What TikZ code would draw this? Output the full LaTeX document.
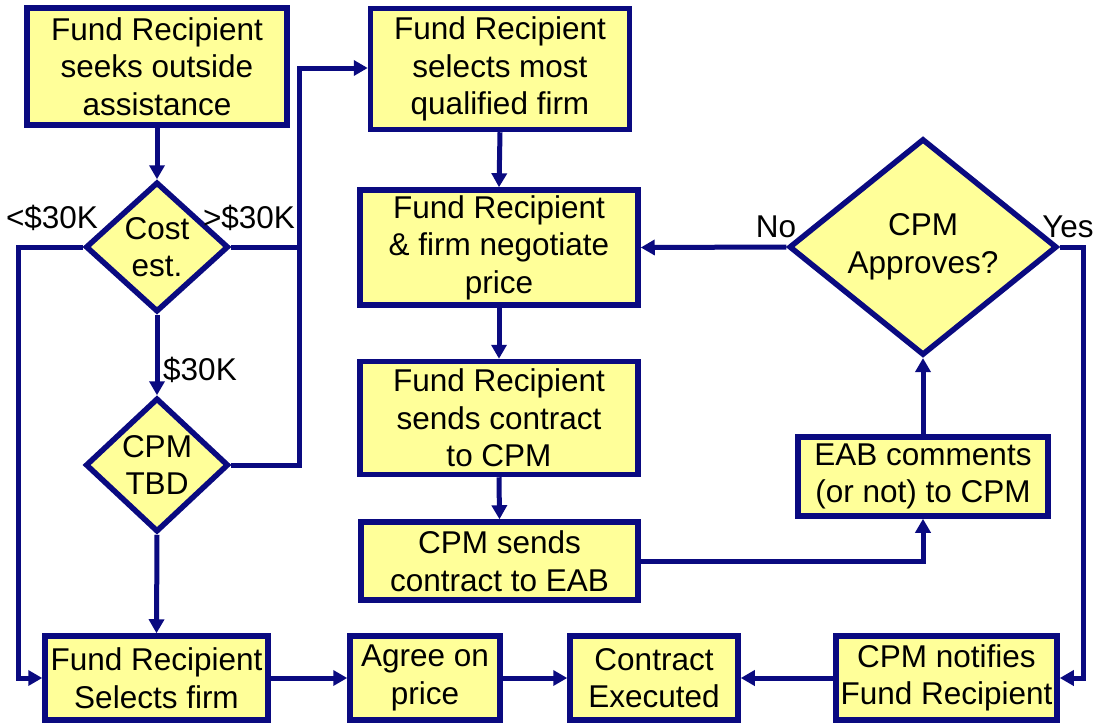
\documentclass[tikz,border=0pt]{standalone}
\usepackage{fontspec}
\setmainfont{Liberation Sans}
\usetikzlibrary{arrows.meta,shapes.geometric}
\definecolor{boxfill}{RGB}{255,255,153}
\definecolor{navy}{RGB}{10,10,128}
\tikzset{
  box/.style={draw=navy, fill=boxfill, line width=5.5pt, inner sep=0pt, align=center,
    font=\fontsize{31.5}{37.5}\selectfont},
  dia/.style={box, shape=diamond},
  link/.style={draw=navy, line width=5pt},
  arr/.style={link, -{Triangle[length=14pt,width=15pt]}},
  lab/.style={font=\fontsize{31.5}{37.5}\selectfont, inner sep=0pt}
}
\begin{document}
\begin{tikzpicture}[x=1pt,y=-1pt]
\useasboundingbox[fill=white] (0,0) rectangle (1095,723);
% nodes
\node[box, minimum width=260pt, minimum height=117pt] (seek) at (157,66.5) {Fund Recipient\\seeks outside\\assistance};
\node[dia, minimum width=143pt, minimum height=130pt] (cost) at (157,247) {Cost\\est.};
\node[dia, minimum width=143pt, minimum height=134pt] (tbd) at (157,465) {CPM\\TBD};
\node[box, minimum width=259pt, minimum height=121pt] (most) at (500,69) {Fund Recipient\\selects most\\qualified firm};
\node[box, minimum width=278pt, minimum height=115pt] (nego) at (499,247.5) {Fund Recipient\\\& firm negotiate\\price};
\node[box, minimum width=278pt, minimum height=113pt] (send) at (499,418) {Fund Recipient\\sends contract\\to CPM};
\node[box, minimum width=277pt, minimum height=78pt] (eabs) at (499.5,561) {CPM sends\\contract to EAB};
\node[box, minimum width=250pt, minimum height=79pt] (eabc) at (923,476.5) {EAB comments\\(or not) to CPM};
\node[dia, minimum width=268pt, minimum height=170pt] (appr) at (923,247) {CPM\\Approves?};
\node[box, minimum width=223pt, minimum height=84pt] (sel) at (156.5,678) {Fund Recipient\\Selects firm};
\node[box, minimum width=150pt, minimum height=84pt] (agree) at (425,678) {Agree on\\price};
\node[box, minimum width=168pt, minimum height=84pt] (exec) at (654,678) {Contract\\Executed};
\node[box, minimum width=221pt, minimum height=84pt] (noti) at (946.5,678) {CPM notifies\\Fund Recipient};
% helper coordinates
\coordinate (lx) at (18,247);
\coordinate (rx) at (299,247);
\coordinate (yx) at (1083,247);
% labels
\node[lab] (lt) at (52,218) {<\$30K};
\node[lab] (gt) at (249,218) {>\$30K};
\node[lab] (eq) at (200,370) {\$30K};
\node[lab] (no) at (776,227) {No};
\node[lab] (yes) at (1068,227) {Yes};
% connectors
\draw[arr] (seek.south) -- (cost.north);
\draw[arr] (cost.south) -- (tbd.north);
\draw[arr] (tbd.south) -- (sel.north);
\draw[arr] (cost.west) -- (lx) |- (sel.west);
\draw[link] (cost.east) -- (rx);
\draw[arr] (tbd.east) -- (rx |- tbd.east) -- (rx |- 0,68) -- (most.west |- 0,68);
\draw[arr] (most.south) -- (nego.north);
\draw[arr] (nego.south) -- (send.north);
\draw[arr] (send.south) -- (eabs.north);
\draw[arr] (eabs.east) -| (eabc.south);
\draw[arr] (eabc.north) -- (appr.south);
\draw[arr] (appr.west) -- (nego.east);
\draw[arr] (appr.east) -- (yx) |- (noti.east);
\draw[arr] (sel.east) -- (agree.west);
\draw[arr] (agree.east) -- (exec.west);
\draw[arr] (noti.west) -- (exec.east);
\end{tikzpicture}
\end{document}
